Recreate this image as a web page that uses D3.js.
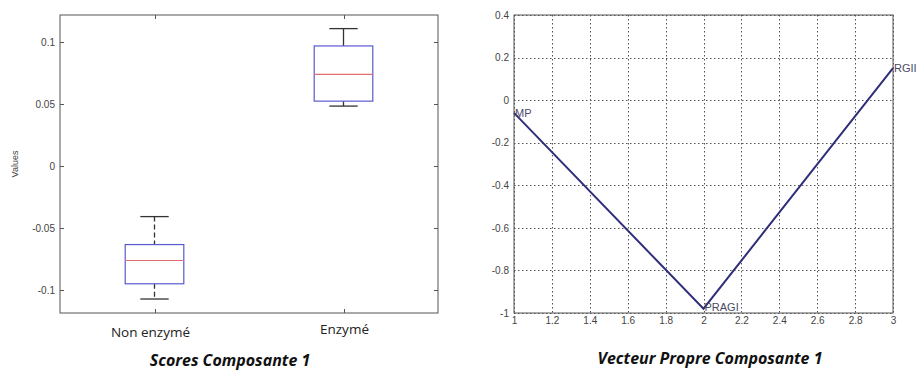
<!DOCTYPE html>
<html><head><meta charset="utf-8">
<script src="https://cdn.jsdelivr.net/npm/d3@7"></script>
<style>body{margin:0;background:#fff}svg{display:block}</style>
</head><body>
<svg id="c" width="917" height="372"></svg>
<script>
// ---- Data: left boxplot ----
const categories = ["Non enzymé", "Enzymé"];
const whiskerLow  = [-0.1075, 0.0484];
const q1          = [-0.0952, 0.0524];
const median      = [-0.0764, 0.0740];
const q3          = [-0.0635, 0.0970];
const whiskerHigh = [-0.0409, 0.1110];
const leftYTicks  = [-0.1, -0.05, 0, 0.05, 0.1];
const leftYTickLabels = ["-0.1", "-0.05", "0", "0.05", "0.1"];

// ---- Data: right line chart ----
const vecX = [1, 2, 3];
const vecY = [-0.06, -0.98, 0.15];
const vecLabels = ["MP", "PRAGI", "RGII"];
const rightXTicks = [1, 1.2, 1.4, 1.6, 1.8, 2, 2.2, 2.4, 2.6, 2.8, 3];
const rightYTicks = [-1, -0.8, -0.6, -0.4, -0.2, 0, 0.2, 0.4];

const titles = ["Scores Composante 1", "Vecteur Propre Composante 1"];

const svg = d3.select("#c");
const axisColor = "#555";
const textColor = "#444";
const tickFont = "Liberation Sans, Arial, sans-serif";

// ===== Left chart =====
{
  const L = 60, R = 438, T = 15, B = 313;
  const x = d3.scaleLinear().domain([0.5, 2.5]).range([L, R]);
  const y = d3.scaleLinear().domain([-0.1188, 0.122]).range([B, T]);
  const g = svg.append("g");
  g.append("rect").attr("x", L).attr("y", T).attr("width", R - L).attr("height", B - T)
    .attr("fill", "none").attr("stroke", axisColor).attr("stroke-width", 1);
  leftYTicks.forEach((v, i) => {
    const yy = Math.round(y(v)) + 0.5;
    g.append("line").attr("x1", L).attr("x2", L + 4).attr("y1", yy).attr("y2", yy).attr("stroke", axisColor);
    g.append("line").attr("x1", R - 4).attr("x2", R).attr("y1", yy).attr("y2", yy).attr("stroke", axisColor);
    g.append("text").attr("x", L - 5).attr("y", yy + 3.5).attr("text-anchor", "end")
      .attr("font-family", tickFont).attr("font-size", 10).attr("fill", textColor).text(leftYTickLabels[i]);
  });
  categories.forEach((c, i) => {
    const xx = Math.round(x(i + 1)) + 0.5;
    g.append("line").attr("x1", xx).attr("x2", xx).attr("y1", B).attr("y2", B - 4).attr("stroke", axisColor);
    g.append("line").attr("x1", xx).attr("x2", xx).attr("y1", T).attr("y2", T + 4).attr("stroke", axisColor);
    g.append("text").attr("x", xx - (i === 0 ? 5 : 0)).attr("y", i === 0 ? 337 : 334).attr("text-anchor", "middle")
      .attr("font-family", "Open Sans, sans-serif").attr("font-size", 13.5).attr("fill", "#222").text(c);
  });
  g.append("text").attr("transform", `translate(18,${(T + B) / 2}) rotate(-90)`).attr("text-anchor", "middle")
    .attr("font-family", tickFont).attr("font-size", 9).attr("fill", textColor).text("Values");
  const bw = 0.31, cw = 0.15;
  categories.forEach((c, i) => {
    const cx = x(i + 1);
    const half = (x(1 + bw / 2) - x(1));
    const capHalf = (x(1 + cw / 2) - x(1));
    g.append("line").attr("x1", cx).attr("x2", cx).attr("y1", y(whiskerHigh[i])).attr("y2", y(q3[i]))
      .attr("stroke", "#333").attr("stroke-dasharray", i === 0 ? "5,3" : null).attr("stroke-width", 1.3);
    g.append("line").attr("x1", cx).attr("x2", cx).attr("y1", y(q1[i])).attr("y2", y(whiskerLow[i]))
      .attr("stroke", "#333").attr("stroke-dasharray", i === 0 ? "5,3" : null).attr("stroke-width", 1.3);
    [whiskerHigh[i], whiskerLow[i]].forEach(v => {
      g.append("line").attr("x1", cx - capHalf).attr("x2", cx + capHalf).attr("y1", y(v)).attr("y2", y(v))
        .attr("stroke", "#333").attr("stroke-width", 1.3);
    });
    g.append("rect").attr("x", cx - half).attr("y", y(q3[i])).attr("width", 2 * half)
      .attr("height", y(q1[i]) - y(q3[i])).attr("fill", "none").attr("stroke", "#5a5ad0").attr("stroke-width", 1.2);
    g.append("line").attr("x1", cx - half).attr("x2", cx + half).attr("y1", y(median[i])).attr("y2", y(median[i]))
      .attr("stroke", "#e07070").attr("stroke-width", 1.1);
  });
  g.append("text").attr("x", 230).attr("y", 366).attr("text-anchor", "middle")
    .attr("font-family", "Open Sans, sans-serif").attr("font-weight", "bold").attr("font-style", "italic")
    .attr("font-size", 16).attr("fill", "#111").text(titles[0]);
}

// ===== Right chart =====
{
  const L = 514, R = 893, T = 15, B = 313;
  const x = d3.scaleLinear().domain([1, 3]).range([L, R]);
  const y = d3.scaleLinear().domain([-1, 0.4]).range([B, T]);
  const g = svg.append("g");
  rightXTicks.forEach(v => {
    const xx = Math.round(x(v)) + 0.5;
    g.append("line").attr("x1", xx).attr("x2", xx).attr("y1", T).attr("y2", B)
      .attr("stroke", "#555").attr("stroke-dasharray", "1.5,2.5").attr("stroke-width", 1);
  });
  rightYTicks.forEach(v => {
    const yy = Math.round(y(v)) + 0.5;
    g.append("line").attr("x1", L).attr("x2", R).attr("y1", yy).attr("y2", yy)
      .attr("stroke", "#555").attr("stroke-dasharray", "1.5,2.5").attr("stroke-width", 1);
  });
  g.append("rect").attr("x", L).attr("y", T).attr("width", R - L).attr("height", B - T)
    .attr("fill", "none").attr("stroke", axisColor).attr("stroke-width", 1);
  const xAxis = d3.axisBottom(x).tickValues(rightXTicks).tickSize(0).tickPadding(6).tickFormat(d3.format("~g"));
  const yAxis = d3.axisLeft(y).tickValues(rightYTicks).tickSize(0).tickPadding(5).tickFormat(d3.format("~g"));
  const gx = g.append("g").attr("transform", `translate(0,${B})`).call(xAxis);
  const gy = g.append("g").attr("transform", `translate(${L},0)`).call(yAxis);
  [gx, gy].forEach(a => {
    a.select(".domain").remove();
    a.selectAll("text").attr("font-family", tickFont).attr("font-size", 10).attr("fill", textColor);
  });
  gy.selectAll("text").text(d => d3.format("~g")(d).replace("−", "-"));
  gx.selectAll("text").attr("dy", "0.5em");
  const line = d3.line().x((d, i) => x(vecX[i])).y((d, i) => y(vecY[i]));
  g.append("path").datum(vecY).attr("d", line).attr("fill", "none")
    .attr("stroke", "#2e2e7a").attr("stroke-width", 2);
  vecLabels.forEach((t, i) => {
    g.append("text").attr("x", x(vecX[i]) + 1).attr("y", y(vecY[i]) + (i === 1 ? 2 : 4))
      .attr("font-family", tickFont).attr("font-size", 11).attr("fill", "#4a4a66").text(t);
  });
  g.append("text").attr("x", 710).attr("y", 364).attr("text-anchor", "middle")
    .attr("font-family", "Open Sans, sans-serif").attr("font-weight", "bold").attr("font-style", "italic")
    .attr("font-size", 16).attr("fill", "#111").text(titles[1]);
}
</script>
</body></html>
